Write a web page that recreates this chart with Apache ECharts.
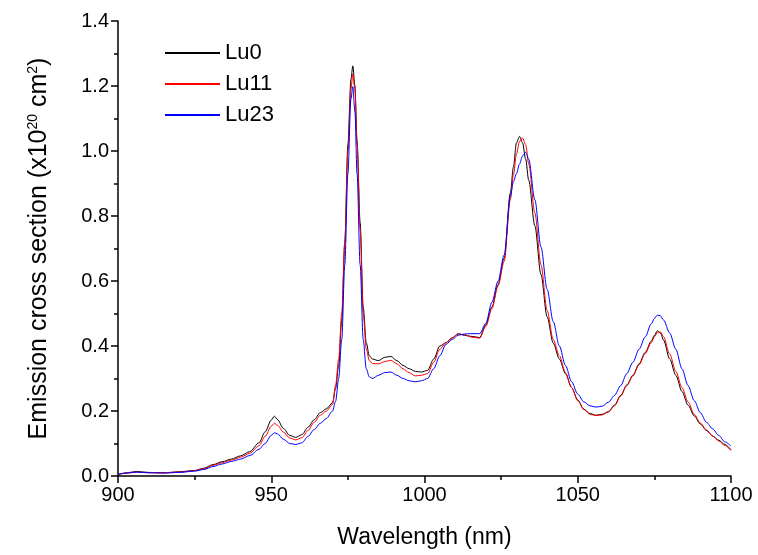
<!DOCTYPE html>
<html>
<head>
<meta charset="utf-8">
<script src="https://cdn.jsdelivr.net/npm/echarts@6/dist/echarts.min.js"></script>
<style>
  html, body { margin: 0; padding: 0; background: #fff; }
  #chart { width: 758px; height: 555px; }
</style>
</head>
<body>
<div id="chart"></div>
<script>
// wavelength (nm)
const wavelength = [
  900, 903, 906, 910, 915, 920, 925, 928, 931, 934, 937, 940, 943, 946, 948, 950, 951, 952, 954, 956,
  958, 960, 962, 964, 966, 968, 970, 971, 972, 973, 974, 975, 976, 976.6, 977.3, 978, 979, 980, 981, 982,
  983, 985, 987, 989, 991, 993, 995, 997, 999, 1001, 1003, 1005, 1007, 1009, 1011, 1013, 1015,
  1018, 1020, 1022, 1024, 1026, 1028, 1029, 1030, 1031, 1032, 1033, 1034, 1036, 1038, 1040, 1042, 1044,
  1046, 1048, 1050, 1052, 1054, 1056, 1058, 1060, 1062, 1064, 1066, 1068, 1070, 1072, 1074, 1075, 1076,
  1077, 1078, 1080, 1082, 1084, 1086, 1088, 1090, 1092, 1094, 1096, 1098, 1100
]
const lu0 = [
  0.005, 0.010, 0.014, 0.011, 0.010, 0.013, 0.017, 0.024, 0.035, 0.044, 0.052, 0.062, 0.075, 0.102, 0.136, 0.172, 0.184, 0.174, 0.146, 0.125,
  0.119, 0.127, 0.150, 0.173, 0.195, 0.207, 0.225, 0.270, 0.340, 0.480, 0.720, 1.020, 1.220, 1.262, 1.200, 1.030, 0.780, 0.520, 0.410, 0.370,
  0.360, 0.355, 0.365, 0.368, 0.355, 0.340, 0.330, 0.322, 0.320, 0.325, 0.360, 0.400, 0.410, 0.425, 0.438, 0.433, 0.430,
  0.426, 0.465, 0.520, 0.590, 0.670, 0.870, 0.950, 1.025, 1.045, 1.025, 0.975, 0.910, 0.770, 0.620, 0.490, 0.409, 0.360,
  0.315, 0.272, 0.234, 0.205, 0.192, 0.187, 0.190, 0.198, 0.218, 0.248, 0.280, 0.310, 0.345, 0.380, 0.415, 0.433, 0.447,
  0.440, 0.418, 0.360, 0.310, 0.260, 0.218, 0.185, 0.160, 0.140, 0.123, 0.110, 0.097, 0.080
]
const lu11 = [
  0.005, 0.009, 0.012, 0.010, 0.010, 0.012, 0.016, 0.022, 0.033, 0.041, 0.049, 0.058, 0.070, 0.093, 0.122, 0.153, 0.162, 0.156, 0.135, 0.117,
  0.111, 0.118, 0.140, 0.165, 0.187, 0.200, 0.220, 0.280, 0.360, 0.500, 0.720, 1.000, 1.190, 1.237, 1.190, 1.020, 0.760, 0.500, 0.390, 0.355,
  0.346, 0.345, 0.352, 0.356, 0.345, 0.330, 0.318, 0.308, 0.310, 0.315, 0.350, 0.390, 0.410, 0.425, 0.437, 0.435, 0.428,
  0.424, 0.460, 0.515, 0.585, 0.660, 0.850, 0.925, 0.990, 1.030, 1.040, 1.020, 0.960, 0.810, 0.650, 0.510, 0.420, 0.370,
  0.318, 0.272, 0.232, 0.205, 0.190, 0.186, 0.188, 0.197, 0.216, 0.246, 0.278, 0.308, 0.342, 0.377, 0.410, 0.428, 0.442,
  0.443, 0.428, 0.375, 0.322, 0.272, 0.228, 0.190, 0.163, 0.142, 0.123, 0.108, 0.094, 0.078
]
const lu23 = [
  0.005, 0.009, 0.012, 0.010, 0.009, 0.011, 0.015, 0.020, 0.029, 0.037, 0.045, 0.052, 0.063, 0.082, 0.100, 0.125, 0.133, 0.130, 0.113, 0.100,
  0.097, 0.102, 0.122, 0.143, 0.162, 0.177, 0.200, 0.230, 0.300, 0.420, 0.650, 0.930, 1.160, 1.198, 1.120, 0.930, 0.650, 0.420, 0.330, 0.305,
  0.300, 0.310, 0.318, 0.320, 0.310, 0.300, 0.293, 0.290, 0.293, 0.300, 0.330, 0.370, 0.405, 0.420, 0.433, 0.437, 0.438,
  0.438, 0.470, 0.535, 0.600, 0.680, 0.860, 0.905, 0.930, 0.960, 0.985, 0.996, 0.975, 0.850, 0.705, 0.575, 0.475, 0.400,
  0.340, 0.290, 0.252, 0.228, 0.216, 0.212, 0.215, 0.227, 0.248, 0.278, 0.315, 0.350, 0.390, 0.428, 0.468, 0.485, 0.495,
  0.493, 0.480, 0.440, 0.390, 0.330, 0.278, 0.232, 0.195, 0.165, 0.145, 0.125, 0.105, 0.092
]
const seriesNames = ['Lu0', 'Lu11', 'Lu23']
const seriesColors = ['#000000', '#ff0000', '#0000ff']

const chart = echarts.init(document.getElementById('chart'))

const pairs = vals => wavelength.map((w, i) => [w, vals[i]])

const font = 'Liberation Sans, Arial, sans-serif'

const option = {
  animation: false,
  backgroundColor: '#ffffff',
  grid: { left: 118, right: 27, top: 21, bottom: 79 },
  legend: {
    orient: 'vertical',
    left: 160,
    top: 37,
    itemWidth: 55,
    itemHeight: 2,
    itemGap: 9,
    icon: 'rect',
    textStyle: { fontFamily: font, fontSize: 22, color: '#000', lineHeight: 22 },
    data: seriesNames
  },
  xAxis: {
    type: 'value',
    min: 900,
    max: 1100,
    interval: 50,
    name: 'Wavelength (nm)',
    nameLocation: 'middle',
    nameGap: 50,
    nameTextStyle: { fontFamily: font, fontSize: 23, color: '#000' },
    axisLine: { lineStyle: { color: '#000', width: 1.5 } },
    axisTick: { inside: false, length: 7, lineStyle: { color: '#000', width: 1.5 } },
    minorTick: { show: true, splitNumber: 2, length: 4, lineStyle: { color: '#000', width: 1.5 } },
    axisLabel: { fontFamily: font, fontSize: 20, color: '#000', margin: 9, formatter: v => String(v) },
    splitLine: { show: false }
  },
  yAxis: {
    type: 'value',
    min: 0,
    max: 1.4,
    interval: 0.2,
    name: '{t|Emission cross section (x10}{s|20}{t| cm}{s|2}{t|)}',
    nameLocation: 'middle',
    nameGap: 66,
    nameTextStyle: {
      fontFamily: font,
      fontSize: 25,
      color: '#000',
      rich: {
        t: { fontFamily: font, fontSize: 25, color: '#000' },
        s: { fontFamily: font, fontSize: 14, color: '#000', verticalAlign: 'top', padding: [0, 0, 12, 0] }
      }
    },
    axisLine: { show: true, lineStyle: { color: '#000', width: 1.5 } },
    axisTick: { show: true, inside: false, length: 7, lineStyle: { color: '#000', width: 1.5 } },
    minorTick: { show: true, splitNumber: 2, length: 4, lineStyle: { color: '#000', width: 1.5 } },
    axisLabel: { fontFamily: font, fontSize: 20, color: '#000', margin: 9, formatter: v => v.toFixed(1) },
    splitLine: { show: false }
  },
  series: [lu0, lu11, lu23].map((vals, i) => ({
    name: seriesNames[i],
    type: 'line',
    data: pairs(vals),
    showSymbol: false,
    smooth: 0.3,
    smoothMonotone: 'x',
    color: seriesColors[i],
    lineStyle: { color: seriesColors[i], width: 1 },
    itemStyle: { color: seriesColors[i] }
  }))
}

chart.setOption(option)
</script>
</body>
</html>
